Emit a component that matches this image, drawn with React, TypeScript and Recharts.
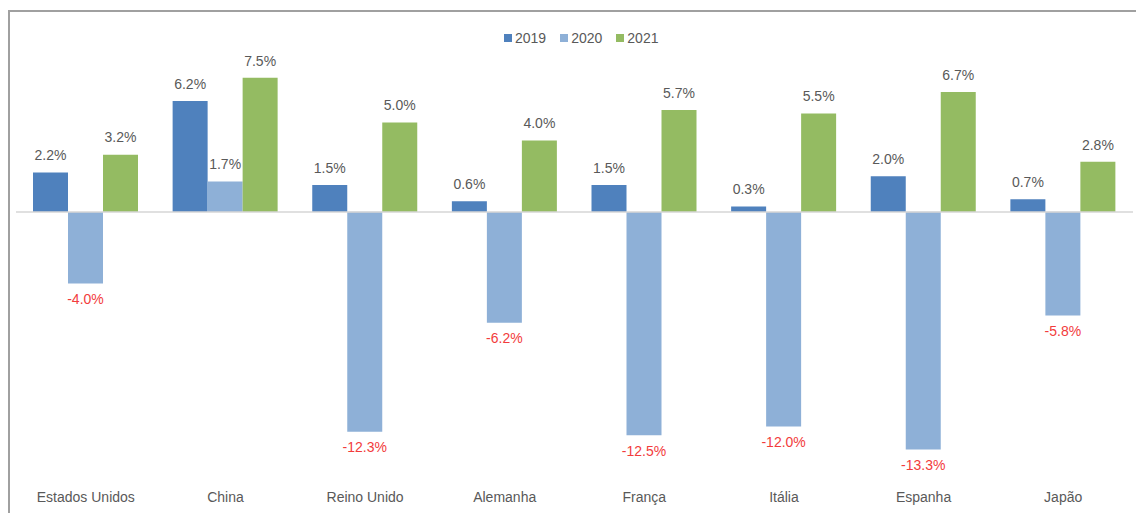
import React from "react";
import { Bar, BarChart, LabelList, ReferenceLine, XAxis, YAxis } from "recharts";

const countries = ["Estados Unidos", "China", "Reino Unido", "Alemanha", "França", "Itália", "Espanha", "Japão"];
const values2019 = [2.2, 6.2, 1.5, 0.6, 1.5, 0.3, 2.0, 0.7];
const values2020 = [-4.0, 1.7, -12.3, -6.2, -12.5, -12.0, -13.3, -5.8];
const values2021 = [3.2, 7.5, 5.0, 4.0, 5.7, 5.5, 6.7, 2.8];

const seriesNames = ["2019", "2020", "2021"];
const seriesColors = ["#4f81bd", "#8eb0d7", "#94bb62"];

const data = countries.map((name, i) => ({
  name,
  y2019: values2019[i],
  y2020: values2020[i],
  y2021: values2021[i],
}));

const FONT = "'Liberation Sans', Arial, sans-serif";
const TEXT = "#595959";

// label above positive bars, below negative ones (red)
const ValueLabel = (props: any) => {
  const { x, y, width, height, value } = props;
  if (value == null) return null;
  const top = Math.min(y, y + height);
  const bottom = Math.max(y, y + height);
  const neg = value < 0;
  return (
    <text
      x={x + width / 2}
      y={neg ? bottom + 17 : top - 16}
      textAnchor="middle"
      dominantBaseline="middle"
      fontSize={14}
      fontFamily={FONT}
      fill={neg ? "#f23c3c" : TEXT}
    >
      {value.toFixed(1)}%
    </text>
  );
};

const App = () => {
  const keys = ["y2019", "y2020", "y2021"];
  return (
    <div
      style={{
        position: "fixed",
        left: 8,
        top: 10,
        width: 1140,
        height: 520,
        borderLeft: "2px solid #a0a0a0",
        borderTop: "2px solid #a0a0a0",
        background: "#fff",
        fontFamily: FONT,
      }}
    >
      <div
        style={{
          position: "absolute",
          top: 18,
          left: 494,
          display: "flex",
          gap: 14,
          fontSize: 14,
          color: TEXT,
          lineHeight: "16px",
        }}
      >
        {seriesNames.map((s, i) => (
          <div key={s} style={{ display: "flex", alignItems: "center", gap: 3 }}>
            <span style={{ width: 8, height: 8, background: seriesColors[i], display: "inline-block" }} />
            <span>{s}</span>
          </div>
        ))}
      </div>
      <BarChart
        width={1126}
        height={503}
        data={data}
        margin={{ top: 39, right: 3, bottom: 5, left: 6 }}
        barGap={0}
        barSize={35}
      >
        <XAxis
          dataKey="name"
          axisLine={false}
          tickLine={false}
          tickMargin={6}
          height={30}
          interval={0}
          tick={{ fill: TEXT, fontSize: 14, fontFamily: FONT }}
        />
        <YAxis hide domain={[-15, 9]} />
        <ReferenceLine y={0} stroke="#d6d6d6" strokeWidth={1.5} />
        {keys.map((k, i) => (
          <Bar key={k} dataKey={k} fill={seriesColors[i]} isAnimationActive={false}>
            <LabelList dataKey={k} content={ValueLabel} />
          </Bar>
        ))}
      </BarChart>
    </div>
  );
};

export default App;
